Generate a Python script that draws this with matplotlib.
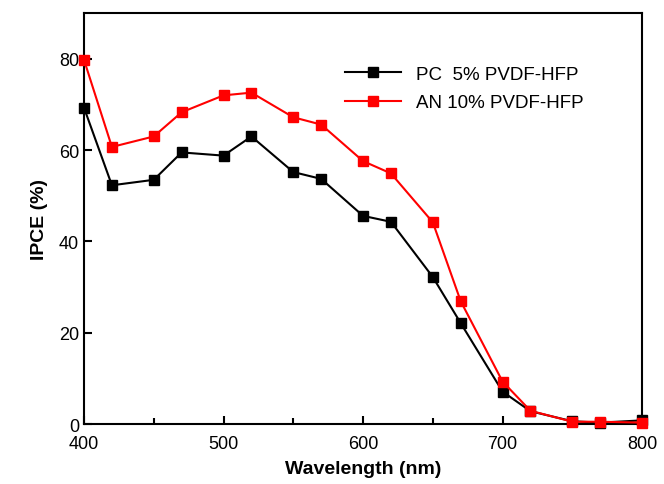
import matplotlib
matplotlib.use("Agg")
import matplotlib.pyplot as plt
from matplotlib.ticker import MultipleLocator

plt.rcParams['font.family'] = ['Liberation Sans', 'DejaVu Sans']

wavelength = [400, 420, 450, 470, 500, 520, 550, 570, 600, 620, 650, 670, 700, 720, 750, 770, 800]
ipce_pc = [69.3, 52.3, 53.5, 59.5, 58.8, 63.0, 55.2, 53.7, 45.6, 44.3, 32.2, 22.1, 7.1, 2.8, 0.6, 0.3, 0.8]
ipce_an = [79.8, 60.7, 63.0, 68.3, 72.0, 72.6, 67.2, 65.6, 57.6, 54.9, 44.2, 26.9, 9.3, 2.9, 0.5, 0.5, 0.3]

fig = plt.figure(figsize=(6.64, 4.85), dpi=100)
ax = fig.add_axes([0.1265, 0.1237, 0.8405, 0.847])

ax.plot(wavelength, ipce_pc, color='black', marker='s', markersize=6.5, lw=1.5,
        label='PC  5% PVDF-HFP', clip_on=False, zorder=3)
ax.plot(wavelength, ipce_an, color='red', marker='s', markersize=6.5, lw=1.5,
        label='AN 10% PVDF-HFP', clip_on=False, zorder=4)

ax.set_xlim(400, 800)
ax.set_ylim(0, 90)
ax.xaxis.set_major_locator(MultipleLocator(100))
ax.xaxis.set_minor_locator(MultipleLocator(50))
ax.yaxis.set_major_locator(MultipleLocator(20))
ax.tick_params(which='both', direction='in', labelsize=13, width=1.5)
ax.tick_params(which='major', length=6)
ax.tick_params(which='minor', length=4)
ax.tick_params(axis='x', pad=8)
for s in ax.spines.values():
    s.set_linewidth(1.5)

ax.set_xlabel('Wavelength (nm)', fontsize=14, fontweight='bold', labelpad=6)
ax.set_ylabel('IPCE (%)', fontsize=14, fontweight='bold', labelpad=8)

ax.legend(loc='upper left', bbox_to_anchor=(0.468, 0.872), frameon=False, fontsize=13.5,
          borderpad=0, borderaxespad=0, handlelength=3.0, handletextpad=0.8,
          labelspacing=0.6)

fig.savefig('out.png', dpi=100)
